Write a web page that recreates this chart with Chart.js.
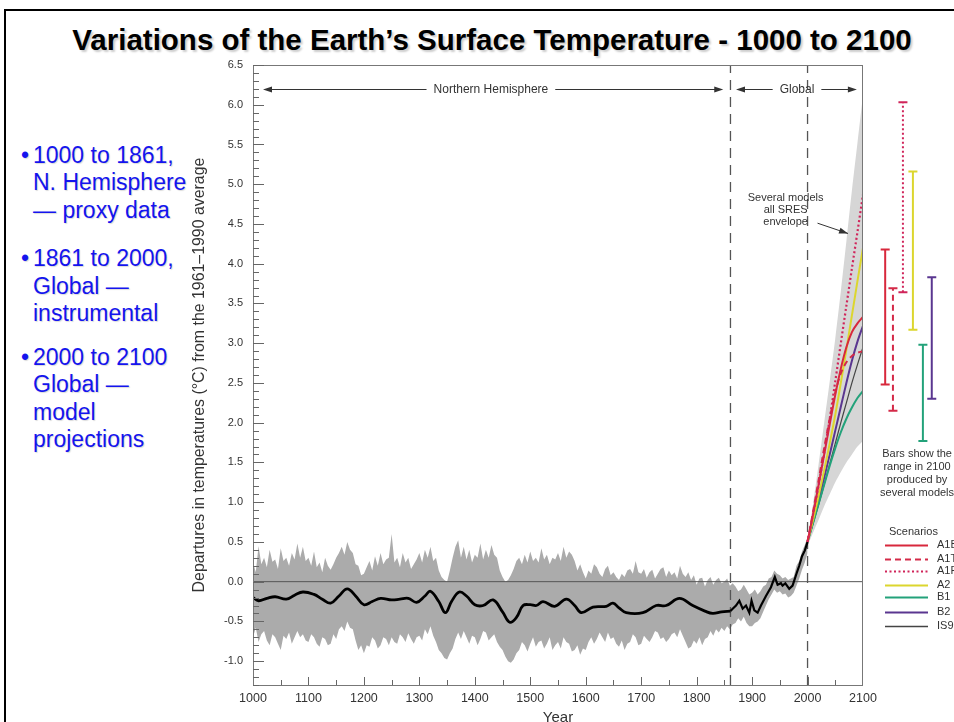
<!DOCTYPE html>
<html>
<head>
<meta charset="utf-8">
<script src="https://cdn.jsdelivr.net/npm/chart.js"></script>
<style>
html, body { margin: 0; padding: 0; width: 954px; height: 722px; overflow: hidden; background: #fff; }
#frame { position: absolute; left: 4px; top: 9px; width: 1000px; height: 800px; border: 2px solid #000; box-sizing: border-box; }
#title { position: absolute; left: 0; top: 25px; width: 984px; text-align: center; font: bold 29.5px "Liberation Sans", Arial, sans-serif; line-height: 29px; color: #000; text-shadow: 2px 2px 2px rgba(0,0,0,0.2); white-space: nowrap; }
.bul { position: absolute; left: 33px; font: 23px "Liberation Sans", Arial, sans-serif; line-height: 27.5px; color: #1414ee; text-shadow: 1px 1px 1px rgba(0,0,0,0.15); white-space: nowrap; }
.bul::before { content: "\2022"; position: absolute; left: -12px; }
#chart { position: absolute; left: 0; top: 0; }
</style>
</head>
<body>
<div id="frame"></div>
<div id="title">Variations of the Earth’s Surface Temperature - 1000 to 2100</div>
<div class="bul" style="top:141.5px">1000 to 1861,<br>N. Hemisphere<br>— proxy data</div>
<div class="bul" style="top:245px">1861 to 2000,<br>Global —<br>instrumental</div>
<div class="bul" style="top:343.5px">2000 to 2100<br>Global —<br>model<br>projections</div>
<canvas id="chart" width="954" height="735"></canvas>
<script>
// proxy + instrumental uncertainty band, read every 5 years
const bandYears = [1000,1005,1010,1015,1020,1025,1030,1035,1040,1045,1050,1055,1060,1065,1070,1075,1080,1085,1090,1095,
    1100,1105,1110,1115,1120,1125,1130,1135,1140,1145,1150,1155,1160,1165,1170,1175,1180,1185,1190,1195,
    1200,1205,1210,1215,1220,1225,1230,1235,1240,1245,1250,1255,1260,1265,1270,1275,1280,1285,1290,1295,
    1300,1305,1310,1315,1320,1325,1330,1335,1340,1345,1350,1355,1360,1365,1370,1375,1380,1385,1390,1395,
    1400,1405,1410,1415,1420,1425,1430,1435,1440,1445,1450,1455,1460,1465,1470,1475,1480,1485,1490,1495,
    1500,1505,1510,1515,1520,1525,1530,1535,1540,1545,1550,1555,1560,1565,1570,1575,1580,1585,1590,1595,
    1600,1605,1610,1615,1620,1625,1630,1635,1640,1645,1650,1655,1660,1665,1670,1675,1680,1685,1690,1695,
    1700,1705,1710,1715,1720,1725,1730,1735,1740,1745,1750,1755,1760,1765,1770,1775,1780,1785,1790,1795,
    1800,1805,1810,1815,1820,1825,1830,1835,1840,1845,1850,1855,1860,1865,1870,1875,1880,1885,1890,1895,
    1900,1905,1910,1915,1920,1925,1930,1935,1940,1945,1950,1955,1960,1965,1970,1975,1980,1985,1990,1995,2000];
const bandUpper = [0.25,0.12,0.45,0.22,0.30,0.18,0.40,0.25,0.28,0.16,0.42,0.26,0.30,0.20,0.36,0.28,0.48,0.30,0.44,0.26,
    0.30,0.20,0.38,0.18,0.24,0.12,0.30,0.20,0.15,0.22,0.30,0.36,0.44,0.34,0.50,0.40,0.36,0.22,0.20,0.08,
    0.10,0.18,0.26,0.14,0.32,0.20,0.36,0.22,0.28,0.30,0.60,0.24,0.30,0.18,0.36,0.24,0.30,0.16,0.22,0.28,
    0.36,0.24,0.40,0.30,0.44,0.26,0.30,0.14,0.06,0.02,0.00,0.14,0.30,0.44,0.52,0.30,0.44,0.28,0.40,0.24,
    0.34,0.30,0.48,0.28,0.40,0.30,0.46,0.34,0.30,0.14,0.06,0.00,0.02,0.08,0.16,0.26,0.30,0.22,0.34,0.24,
    0.38,0.26,0.30,0.24,0.42,0.28,0.34,0.22,0.30,0.28,0.36,0.26,0.44,0.30,0.38,0.34,0.26,0.14,0.22,0.12,
    0.04,0.14,0.10,0.22,0.18,0.10,0.06,0.16,0.20,0.08,0.12,0.06,0.02,0.10,0.06,0.14,0.16,0.10,0.26,0.12,
    0.10,0.16,0.05,0.12,0.15,0.04,0.10,0.16,0.18,0.06,0.14,0.08,0.12,0.04,0.20,0.10,0.06,0.12,0.02,0.08,
    -0.04,0.04,0.05,-0.06,0.02,0.06,-0.04,0.02,0.05,-0.02,0.00,0.04,-0.05,-0.02,-0.06,-0.12,-0.10,-0.04,-0.10,-0.16,
    -0.14,-0.10,-0.16,-0.12,-0.06,-0.04,0.04,0.06,0.14,0.10,0.08,0.04,0.06,0.02,0.04,0.06,0.20,0.26,0.38,0.46,0.56];
const bandLower = [-0.70,-0.58,-0.76,-0.66,-0.62,-0.74,-0.80,-0.66,-0.70,-0.78,-0.86,-0.68,-0.72,-0.64,-0.78,-0.70,-0.62,-0.70,-0.66,-0.74,
    -0.76,-0.66,-0.70,-0.78,-0.82,-0.70,-0.72,-0.80,-0.78,-0.66,-0.72,-0.60,-0.56,-0.62,-0.50,-0.58,-0.60,-0.74,-0.86,-0.80,
    -0.90,-0.80,-0.82,-0.70,-0.74,-0.84,-0.80,-0.70,-0.72,-0.80,-0.70,-0.76,-0.78,-0.66,-0.70,-0.76,-0.65,-0.72,-0.78,-0.70,
    -0.68,-0.74,-0.60,-0.66,-0.56,-0.68,-0.76,-0.86,-0.90,-0.96,-0.98,-0.90,-0.84,-0.72,-0.64,-0.72,-0.62,-0.70,-0.78,-0.68,
    -0.70,-0.80,-0.72,-0.62,-0.64,-0.74,-0.70,-0.66,-0.76,-0.82,-0.86,-0.94,-1.00,-1.02,-0.98,-0.90,-0.86,-0.76,-0.80,-0.88,
    -0.78,-0.70,-0.82,-0.76,-0.74,-0.84,-0.78,-0.70,-0.86,-0.80,-0.76,-0.84,-0.70,-0.76,-0.78,-0.88,-0.86,-0.80,-0.92,-0.84,
    -0.86,-0.76,-0.70,-0.78,-0.72,-0.64,-0.70,-0.76,-0.64,-0.72,-0.70,-0.78,-0.82,-0.74,-0.86,-0.78,-0.76,-0.66,-0.70,-0.80,
    -0.78,-0.68,-0.72,-0.76,-0.70,-0.62,-0.64,-0.72,-0.70,-0.76,-0.72,-0.66,-0.64,-0.70,-0.60,-0.68,-0.76,-0.84,-0.82,-0.74,
    -0.78,-0.70,-0.80,-0.72,-0.70,-0.62,-0.68,-0.60,-0.64,-0.58,-0.62,-0.56,-0.60,-0.54,-0.52,-0.46,-0.50,-0.44,-0.52,-0.56,
    -0.56,-0.52,-0.50,-0.46,-0.38,-0.30,-0.22,-0.16,-0.10,-0.14,-0.12,-0.16,-0.15,-0.20,-0.18,-0.14,-0.05,0.04,0.15,0.24,0.36];

// 40-year smoothed proxy record
const proxyYears = [1000,1010,1025,1040,1060,1075,1090,1110,1125,1140,1155,1170,1185,1200,1215,1230,1250,1265,1280,1295,
    1310,1320,1335,1347,1358,1372,1385,1400,1415,1433,1450,1463,1475,1487,1500,1511,1523,1544,1565,1580,
    1592,1613,1637,1649,1660,1673,1703,1727,1745,1769,1793,1815,1829,1845,1861];
const proxyTemps = [-0.20,-0.24,-0.21,-0.19,-0.22,-0.17,-0.13,-0.16,-0.22,-0.27,-0.18,-0.09,-0.18,-0.29,-0.25,-0.21,-0.23,-0.22,-0.21,-0.26,
    -0.18,-0.12,-0.25,-0.39,-0.25,-0.13,-0.18,-0.29,-0.30,-0.23,-0.38,-0.51,-0.45,-0.30,-0.29,-0.30,-0.25,-0.31,-0.22,-0.30,
    -0.39,-0.32,-0.31,-0.27,-0.33,-0.39,-0.39,-0.30,-0.30,-0.21,-0.30,-0.37,-0.40,-0.38,-0.37];

// instrumental record
const instYears = [1861,1865,1871,1877,1883,1889,1895,1899,1904,1910,1916,1925,1934,1941,1946,1952,1955,1960,1967,1973,1980,1985,1990,1995,2000];
const instTemps = [-0.37,-0.34,-0.30,-0.24,-0.34,-0.30,-0.39,-0.24,-0.36,-0.39,-0.30,-0.18,-0.07,0.06,-0.04,-0.02,-0.05,-0.02,-0.09,-0.05,0.10,0.20,0.32,0.39,0.50];

// projections
const projYears = [2000,2010,2020,2030,2040,2050,2060,2070,2080,2090,2100];
const envUpper = [0.52,0.98,1.48,2.00,2.52,3.06,3.65,4.28,4.92,5.52,6.12];
const envLower = [0.45,0.62,0.78,0.95,1.10,1.25,1.38,1.50,1.60,1.70,1.77];
const scenarioNames = ['A1B','A1T','A1FI','A2','B1','B2','IS92a'];
const scenarioValues = [
    [0.50,0.85,1.22,1.60,1.98,2.35,2.68,2.95,3.14,3.25,3.33],
    [0.50,0.88,1.28,1.68,2.05,2.38,2.62,2.76,2.84,2.88,2.90],
    [0.50,0.85,1.22,1.62,2.05,2.52,3.00,3.47,3.94,4.40,4.87],
    [0.50,0.78,1.08,1.40,1.74,2.10,2.50,2.92,3.35,3.78,4.20],
    [0.50,0.74,0.98,1.22,1.46,1.68,1.88,2.05,2.19,2.31,2.40],
    [0.50,0.76,1.03,1.31,1.60,1.90,2.20,2.50,2.78,3.02,3.22],
    [0.50,0.73,0.97,1.22,1.48,1.74,2.00,2.25,2.50,2.73,2.95]
];

// ranges in 2100 (bars to the right of the plot)
const rangeNames = ['A1B','A1T','A1FI','A2','B1','B2'];
const rangeLow = [2.48,2.15,3.64,3.17,1.77,2.30];
const rangeHigh = [4.18,3.69,6.03,5.16,2.98,3.83];
const rangeX = [2140,2154,2172,2190,2208,2224];

const FONT = '"Liberation Sans", Arial, sans-serif';
const scenarioColors = ['#d8283c','#d42a48','#d0245a','#dcd62e','#23a27a','#5a3690','#444444'];
const scenarioDash = [[], [6,4], [2,2.5], [], [], [], []];
const scenarioWidth = [2, 2, 2.2, 2, 2, 2, 1.2];

function pts(xs, ys)
{
    return xs.map((x, i) => ({x: x, y: ys[i]}));
}

function arrowHead(ctx, x, y, angle)
{
    ctx.save();
    ctx.translate(x, y);
    ctx.rotate(angle);
    ctx.beginPath();
    ctx.moveTo(0, 0);
    ctx.lineTo(-9, -3);
    ctx.lineTo(-9, 3);
    ctx.closePath();
    ctx.fill();
    ctx.restore();
}

const spans = [
    {label: 'Northern Hemisphere', from: 1018, to: 1848, at: 1429},
    {label: 'Global', from: 1871, to: 2089, at: 1981}
];

const decorations = {
    id: 'decorations',
    afterDraw(chart)
    {
        const {ctx, chartArea: a, scales: {x, y}} = chart;
        ctx.save();

        // plot frame
        ctx.strokeStyle = '#777';
        ctx.lineWidth = 1;
        ctx.strokeRect(a.left + 0.5, a.top + 0.5, a.right - a.left - 1, a.bottom - a.top);

        // inner tick marks
        ctx.strokeStyle = '#666';
        ctx.beginPath();
        for (let k = -13; k <= 65; k++)
        {
            const py = Math.round(y.getPixelForValue(k / 10)) + 0.5;
            const len = k % 5 === 0 ? 11 : 6;
            ctx.moveTo(a.left, py);
            ctx.lineTo(a.left + len, py);
        }
        for (let yr = 1050; yr < 2100; yr += 50)
        {
            const px = Math.round(x.getPixelForValue(yr)) + 0.5;
            const len = yr % 100 === 0 ? 8 : 5;
            ctx.moveTo(px, a.bottom);
            ctx.lineTo(px, a.bottom - len);
        }
        ctx.stroke();

        // caps on the range bars (points outside the chart area are skipped by the library)
        rangeNames.forEach((n, i) => {
            const px = x.getPixelForValue(rangeX[i]);
            ctx.strokeStyle = scenarioColors[i];
            ctx.lineWidth = 2;
            ctx.beginPath();
            [rangeLow[i], rangeHigh[i]].forEach(v => {
                const py = y.getPixelForValue(v);
                ctx.moveTo(px - 4.5, py);
                ctx.lineTo(px + 4.5, py);
            });
            ctx.stroke();
        });
        ctx.lineWidth = 1;

        // period arrows at the top
        ctx.font = '12px ' + FONT;
        ctx.fillStyle = '#333';
        ctx.strokeStyle = '#333';
        ctx.textAlign = 'center';
        ctx.textBaseline = 'middle';
        const ay = Math.round(y.getPixelForValue(6.2)) + 0.5;
        spans.forEach(s => {
            const x0 = x.getPixelForValue(s.from);
            const x1 = x.getPixelForValue(s.to);
            const xc = x.getPixelForValue(s.at);
            const w = ctx.measureText(s.label).width / 2 + 7;
            ctx.fillText(s.label, xc, ay);
            ctx.beginPath();
            ctx.moveTo(x0 + 6, ay); ctx.lineTo(xc - w, ay);
            ctx.moveTo(xc + w, ay); ctx.lineTo(x1 - 6, ay);
            ctx.stroke();
            arrowHead(ctx, x0, ay, Math.PI);
            arrowHead(ctx, x1, ay, 0);
        });

        // envelope note
        ctx.font = '11px ' + FONT;
        const nx = x.getPixelForValue(1960.5);
        const ny = y.getPixelForValue(4.83);
        ['Several models', 'all SRES', 'envelope'].forEach((t, i) => ctx.fillText(t, nx, ny + i * 12.3));
        const sx = x.getPixelForValue(2018), sy = y.getPixelForValue(4.51);
        const ex = x.getPixelForValue(2073), ey = y.getPixelForValue(4.38);
        ctx.beginPath();
        ctx.moveTo(sx, sy); ctx.lineTo(ex, ey);
        ctx.stroke();
        arrowHead(ctx, ex, ey, Math.atan2(ey - sy, ex - sx));

        // bars note
        const bx = x.getPixelForValue(2197.5);
        ['Bars show the', 'range in 2100', 'produced by', 'several models'].forEach((t, i) => ctx.fillText(t, bx, 454 + i * 13));

        // scenario legend
        ctx.textAlign = 'left';
        ctx.fillText('Scenarios', 889, 532);
        const ly = [545, 559, 571, 585, 597, 612, 626];
        scenarioNames.forEach((n, i) => {
            ctx.save();
            ctx.strokeStyle = scenarioColors[i];
            ctx.lineWidth = i === 6 ? 1.3 : 2;
            ctx.setLineDash(scenarioDash[i]);
            ctx.beginPath();
            ctx.moveTo(885, ly[i] + 0.5); ctx.lineTo(928, ly[i] + 0.5);
            ctx.stroke();
            ctx.restore();
            ctx.fillText(n, 937, ly[i]);
        });

        ctx.restore();
    }
};

const datasets = [
    {label: 'band low', data: pts(bandYears, bandLower), borderWidth: 0, pointRadius: 0, fill: false, order: 10},
    {label: 'band high', data: pts(bandYears, bandUpper), borderWidth: 0, pointRadius: 0, fill: '-1', backgroundColor: '#ababab', order: 10},
    {label: 'env low', data: pts(projYears, envLower), borderWidth: 0, pointRadius: 0, fill: false, tension: 0.3, order: 9},
    {label: 'env high', data: pts(projYears, envUpper), borderWidth: 0, pointRadius: 0, fill: '-1', backgroundColor: '#d6d6d6', tension: 0.3, order: 9},
    {label: 'zero', data: pts([1000, 2100], [0, 0]), borderColor: '#555', borderWidth: 1, pointRadius: 0, order: 8},
    {label: '1861', data: pts([1861, 1861], [-1.3, 6.5]), borderColor: '#555', borderWidth: 1.3, borderDash: [10, 7], pointRadius: 0, order: 7},
    {label: '2000', data: pts([2000, 2000], [-1.3, 6.5]), borderColor: '#555', borderWidth: 1.3, borderDash: [10, 7], pointRadius: 0, order: 7},
    {label: 'proxy', data: pts(proxyYears, proxyTemps), borderColor: '#000', borderWidth: 2.8, pointRadius: 0, tension: 0.4, order: 6},
    {label: 'instrumental', data: pts(instYears, instTemps), borderColor: '#000', borderWidth: 2.2, pointRadius: 0, order: 6}
];

scenarioNames.forEach((n, i) => {
    datasets.push({
        label: n,
        data: pts(projYears, scenarioValues[i]),
        borderColor: scenarioColors[i],
        borderWidth: scenarioWidth[i],
        borderDash: scenarioDash[i],
        pointRadius: 0,
        tension: 0.3,
        order: i === 2 ? 1 : 2
    });
});

rangeNames.forEach((n, i) => {
    datasets.push({
        label: n + ' range',
        data: pts([rangeX[i], rangeX[i]], [rangeLow[i], rangeHigh[i]]),
        borderColor: scenarioColors[i],
        borderWidth: 2,
        borderDash: scenarioDash[i],
        pointRadius: 0,
        clip: false,
        order: 0
    });
});

const ctx = document.getElementById('chart').getContext('2d');

const tempChart = new Chart(ctx, {
    type: 'line',
    data: { datasets: datasets },
    options: {
        responsive: false,
        animation: false,
        devicePixelRatio: 1,
        layout: { padding: { left: 186, right: 91, top: 65, bottom: 0 } },
        plugins: {
            legend: { display: false },
            tooltip: { enabled: false }
        },
        scales: {
            x: {
                type: 'linear',
                min: 1000,
                max: 2100,
                afterFit: s => { s.height = 50; },
                grid: { display: false, drawTicks: false },
                border: { display: false },
                ticks: {
                    stepSize: 100,
                    autoSkip: false,
                    maxRotation: 0,
                    padding: 6,
                    color: '#333',
                    font: { family: FONT, size: 12.5 },
                    callback: v => String(v)
                },
                title: {
                    display: true,
                    text: 'Year',
                    color: '#333',
                    font: { family: FONT, size: 15 },
                    padding: { top: 0, bottom: 8 }
                }
            },
            y: {
                type: 'linear',
                min: -1.3,
                max: 6.5,
                afterFit: s => { s.width = 67; },
                grid: { display: false, drawTicks: false },
                border: { display: false },
                ticks: {
                    stepSize: 0.5,
                    includeBounds: false,
                    padding: 10,
                    color: '#333',
                    font: { family: FONT, size: 11 },
                    callback: v => v.toFixed(1)
                },
                title: {
                    display: true,
                    text: 'Departures in temperatures (°C) from the 1961–1990 average',
                    color: '#333',
                    font: { family: FONT, size: 15.9 },
                    padding: { top: 4, bottom: 4 }
                }
            }
        }
    },
    plugins: [decorations]
});
</script>
</body>
</html>
